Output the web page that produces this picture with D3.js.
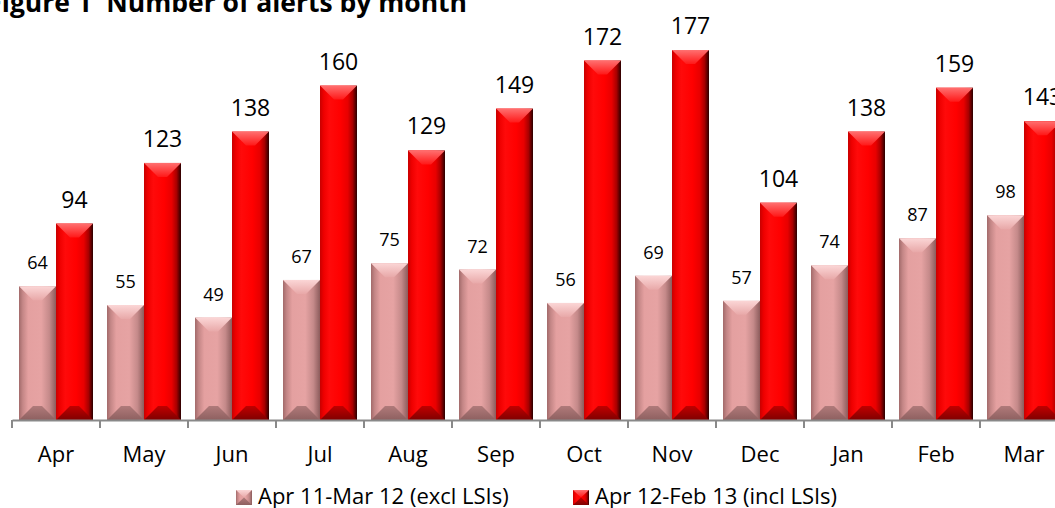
<!DOCTYPE html>
<html>
<head>
<meta charset="utf-8">
<script src="https://cdn.jsdelivr.net/npm/d3@7"></script>
<style>
  body { margin: 0; background: #fff; overflow: hidden; }
  text { font-family: "Open Sans", Lato, sans-serif; fill: #000; }
</style>
</head>
<body>
<div id="chart"></div>
<script>
// chart data
var months = ["Apr", "May", "Jun", "Jul", "Aug", "Sep", "Oct", "Nov", "Dec", "Jan", "Feb", "Mar"];
var prevYear = [64, 55, 49, 67, 75, 72, 56, 69, 57, 74, 87, 98];
var thisYear = [94, 123, 138, 160, 129, 149, 172, 177, 104, 138, 159, 143];
var seriesNames = ["Apr 11-Mar 12 (excl LSIs)", "Apr 12-Feb 13 (incl LSIs)"];

var W = 1055, H = 508;

var svg = d3.select("#chart")
  .append("svg")
    .attr("width", W)
    .attr("height", H);

var defs = svg.append("defs");

// shading for the bar bodies and bevels
function grad(id, vertical, stops) {
  var g = defs.append("linearGradient").attr("id", id)
    .attr("x1", 0).attr("y1", 0)
    .attr("x2", vertical ? 0 : 1).attr("y2", vertical ? 1 : 0);
  stops.forEach(function(s) {
    g.append("stop").attr("offset", s[0]).attr("stop-color", s[1]);
  });
}

grad("redBody", false, [[0, "#c80000"], [0.1, "#ee0000"], [0.25, "#ff0a0a"], [0.55, "#ff0000"], [0.75, "#e80000"], [0.88, "#a80000"], [1, "#2a0000"]]);
grad("pinkBody", false, [[0, "#a26a6a"], [0.1, "#c48686"], [0.25, "#e4a0a0"], [0.6, "#e6a3a3"], [0.82, "#c58a8a"], [1, "#8c5c5c"]]);
grad("redTop", true, [[0, "#ff7070"], [1, "#ff1818"]]);
grad("pinkTop", true, [[0, "#fbd6d6"], [1, "#e8a8a8"]]);
grad("redBot", true, [[0, "#c00000"], [1, "#800000"]]);
grad("pinkBot", true, [[0, "#b07a7a"], [1, "#8e6060"]]);

var styles = [
  {body: "url(#pinkBody)", top: "url(#pinkTop)", bot: "url(#pinkBot)", label: 18, gap: 17},
  {body: "url(#redBody)", top: "url(#redTop)", bot: "url(#redBot)", label: 23, gap: 16}
];

// scales
var x = d3.scaleBand()
  .domain(months)
  .range([12, 12 + 88 * months.length]);

var x1 = d3.scaleBand()
  .domain([0, 1])
  .range([7, 81]);

var y = d3.scaleLinear()
  .domain([0, 200])
  .range([420, 2]);

// title (runs off the top-left edge, as in the source image)
var title = svg.append("text")
  .attr("y", 12)
  .attr("text-anchor", "end")
  .style("font-size", "26.5px")
  .style("font-weight", "bold");
title.append("tspan").attr("x", 92).text("Figure 1");
title.append("tspan").attr("x", 467).text("Number of alerts by month");

// bars
var rows = months.map(function(m, i) {
  return {month: m, vals: [prevYear[i], thisYear[i]]};
});

var groups = svg.selectAll(".grp")
  .data(rows)
  .enter()
  .append("g")
    .attr("class", "grp")
    .attr("transform", function(d) { return "translate(" + x(d.month) + ",0)"; });

var bars = groups.selectAll(".bar")
  .data(function(d) { return d.vals.map(function(v, s) { return {v: v, s: s}; }); })
  .enter()
  .append("g")
    .attr("class", "bar");

bars.each(function(d) {
  var g = d3.select(this);
  var st = styles[d.s];
  var bx = x1(d.s), bw = x1.bandwidth();
  var top = y(d.v), base = y(0);
  var b = Math.min(14, (base - top) / 2);

  g.append("rect")
    .attr("x", bx).attr("y", top)
    .attr("width", bw).attr("height", base - top)
    .attr("fill", st.body);

  g.append("polygon")
    .attr("points", [[bx, top], [bx + bw, top], [bx + bw - b, top + b], [bx + b, top + b]].join(" "))
    .attr("fill", st.top);

  g.append("polygon")
    .attr("points", [[bx + b, base - b], [bx + bw - b, base - b], [bx + bw, base], [bx, base]].join(" "))
    .attr("fill", st.bot);

  g.append("text")
    .attr("x", bx + bw / 2)
    .attr("y", top - st.gap)
    .attr("text-anchor", "middle")
    .style("font-size", st.label + "px")
    .text(d.v);
});

// x axis
var axis = svg.append("g")
  .attr("transform", "translate(0," + y(0) + ")")
  .call(d3.axisBottom(x).tickSize(0).tickSizeOuter(0).tickPadding(42));

axis.select(".domain").attr("stroke", "#898989").attr("stroke-width", 2);
axis.selectAll("text")
  .style("font-size", "22px")
  .style("font-family", "'Open Sans', sans-serif")
  .style("fill", "#000")
  .attr("dy", "0");

// ticks between categories
axis.selectAll(".sep")
  .data(months)
  .enter()
  .append("line")
    .attr("class", "sep")
    .attr("x1", function(d) { return x(d); })
    .attr("x2", function(d) { return x(d); })
    .attr("y1", 0)
    .attr("y2", 8)
    .attr("stroke", "#898989")
    .attr("stroke-width", 2);

// legend
var legendX = [236, 573];
var legend = svg.selectAll(".leg")
  .data(seriesNames)
  .enter()
  .append("g")
    .attr("class", "leg")
    .attr("transform", function(d, i) { return "translate(" + legendX[i] + ",490)"; });

legend.append("rect")
  .attr("width", 16).attr("height", 15)
  .attr("fill", function(d, i) { return styles[i].body; });
legend.append("polygon")
  .attr("points", "0,0 16,0 8,7.5")
  .attr("fill", function(d, i) { return styles[i].top; });
legend.append("polygon")
  .attr("points", "0,15 16,15 8,7.5")
  .attr("fill", function(d, i) { return styles[i].bot; });

legend.append("text")
  .attr("x", 22)
  .attr("y", 14)
  .style("font-size", "22px")
  .text(function(d) { return d; });
</script>
</body>
</html>
